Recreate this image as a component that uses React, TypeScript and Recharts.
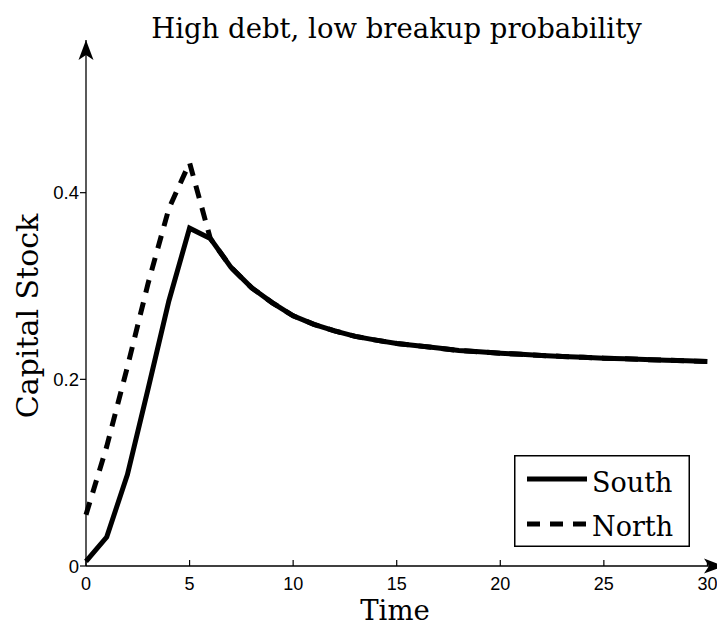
import { LineChart, Line, XAxis, YAxis, Legend, Label } from "recharts";

// time periods on the x axis
const time = [
  0, 1, 2, 3, 4, 5, 6, 7, 8, 9, 10, 11, 12, 13, 14, 15, 16, 17, 18, 19, 20,
  21, 22, 23, 24, 25, 26, 27, 28, 29, 30,
];

// capital stock
const south = [
  0.005, 0.031, 0.098, 0.19, 0.284, 0.362, 0.351, 0.32, 0.298, 0.282, 0.268,
  0.259, 0.252, 0.246, 0.242, 0.2385, 0.236, 0.2335, 0.231, 0.2295, 0.228,
  0.2268, 0.2256, 0.2246, 0.2236, 0.2227, 0.222, 0.2212, 0.2205, 0.2198, 0.219,
];
// North path joins South after the shock, so it is hidden below it
const north = [
  0.055, 0.128, 0.2135, 0.303, 0.383, 0.432, 0.351, 0.32, 0.298, 0.282, 0.268,
  0.259, 0.252, 0.246, 0.242, 0.2385, 0.236, 0.2335, 0.231, 0.2295, 0.228,
  0.2268, 0.2256, 0.2246, 0.2236, 0.2227, 0.222, 0.2212, 0.2205, 0.2198, 0.219,
];

const xTicks = [0, 5, 10, 15, 20, 25, 30];
const yTicks = [0, 0.2, 0.4];
const seriesNames = ["South", "North"];

const data = time.map((t, i) => ({ t, south: south[i], north: north[i] }));

const SERIF = "'DejaVu Serif', serif";
const SANS = "'Liberation Sans', Arial, sans-serif";
const DASH = "13 10";

const XTick = ({ x, y, payload }: any) => (
  <g>
    <line x1={x} x2={x} y1={y} y2={y - 6} stroke="#000" strokeWidth={1.2} />
    <text x={x} y={y + 24} textAnchor="middle" fontFamily={SANS} fontSize={18} fill="#000">
      {payload.value}
    </text>
  </g>
);

// y ticks sit outside the axis; x is the axis position here
const YTick = ({ x, y, payload }: any) => (
  <g>
    <line x1={x - 6} x2={x} y1={y} y2={y} stroke="#000" strokeWidth={1.2} />
    <text x={x - 7} y={y + 6.5} textAnchor="end" fontFamily={SANS} fontSize={18.5} fill="#000">
      {payload.value}
    </text>
  </g>
);

const renderLegend = () => (
  <svg width={176} height={92} style={{ display: "block" }}>
    <rect x={0.75} y={0.75} width={174.5} height={90.5} fill="#fff" stroke="#000" strokeWidth={1.5} />
    {seriesNames.map((name, i) => (
      <g key={name}>
        <line
          x1={13}
          x2={73}
          y1={24 + i * 45}
          y2={24 + i * 45}
          stroke="#000"
          strokeWidth={5}
          strokeDasharray={name === "North" ? DASH : undefined}
        />
        <text x={78} y={37 + i * 44} fontFamily={SERIF} fontSize={27} fill="#000">
          {name}
        </text>
      </g>
    ))}
  </svg>
);

export default function App() {
  return (
    <div style={{ position: "relative", width: 717, height: 620 }}>
      <div
        style={{
          position: "absolute",
          left: 0,
          top: 7,
          width: 777,
          textAlign: "center",
          fontFamily: SERIF,
          fontSize: 27.5,
          lineHeight: "27px",
          color: "#000",
          zIndex: 1,
        }}
      >
        High debt, low breakup probability
      </div>
      <LineChart
        width={717}
        height={620}
        data={data}
        margin={{ top: 32, right: 1, bottom: 4, left: 0 }}
      >
        <defs>
          <marker
            id="axisArrow"
            markerUnits="userSpaceOnUse"
            markerWidth={22}
            markerHeight={16}
            viewBox="0 0 22 16"
            refX={20}
            refY={8}
            orient="auto-start-reverse"
          >
            <path d="M0,0.5 L20,8 L0,15.5 L5,8 Z" fill="#000" />
          </marker>
        </defs>
        <XAxis
          dataKey="t"
          type="number"
          domain={[0, 30.8]}
          ticks={xTicks}
          height={58}
          tickLine={false}
          tickSize={0}
          tickMargin={0}
          tick={<XTick />}
          axisLine={{ stroke: "#000", strokeWidth: 1.3, markerEnd: "url(#axisArrow)" }}
        >
          <Label
            content={({ viewBox }: any) => (
              <text
                x={viewBox.x + viewBox.width / 2 - 10}
                y={viewBox.y + 54}
                textAnchor="middle"
                fontFamily={SERIF}
                fontSize={27.5}
                fill="#000"
              >
                Time
              </text>
            )}
          />
        </XAxis>
        <YAxis
          type="number"
          domain={[0, 0.5636]}
          ticks={yTicks}
          width={78}
          tickSize={0}
          tickMargin={0}
          tickLine={false}
          tick={<YTick />}
          axisLine={{ stroke: "#000", strokeWidth: 1.3, markerStart: "url(#axisArrow)" }}
        >
          <Label
            content={({ viewBox }: any) => {
              const cx = viewBox.x + 30;
              const cy = viewBox.y + viewBox.height / 2 + 13;
              return (
                <text
                  x={cx}
                  y={cy}
                  transform={`rotate(-90, ${cx}, ${cy})`}
                  textAnchor="middle"
                  fontFamily={SERIF}
                  fontSize={30}
                  fill="#000"
                >
                  Capital Stock
                </text>
              );
            }}
          />
        </YAxis>
        <Line
          name="North"
          type="linear"
          dataKey="north"
          stroke="#000"
          strokeWidth={5}
          strokeDasharray={DASH}
          dot={false}
          activeDot={false}
          isAnimationActive={false}
        />
        <Line
          name="South"
          type="linear"
          dataKey="south"
          stroke="#000"
          strokeWidth={5}
          dot={false}
          activeDot={false}
          isAnimationActive={false}
        />
        <Legend
          layout="horizontal"
          align="center"
          verticalAlign="middle"
          content={renderLegend}
          wrapperStyle={{ left: 506, top: 447, width: 176, height: 92 }}
        />
      </LineChart>
    </div>
  );
}
